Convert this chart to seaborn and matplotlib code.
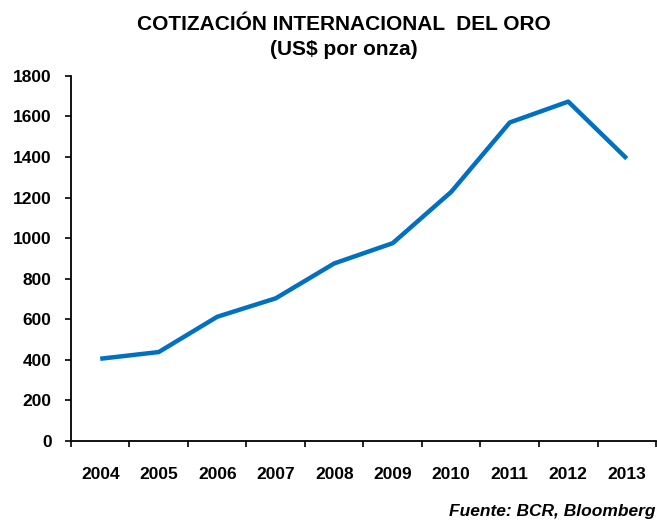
import numpy as np
import pandas as pd
import seaborn as sns
import matplotlib.pyplot as plt
from matplotlib.ticker import FixedLocator

# datos
years = ["2004", "2005", "2006", "2007", "2008", "2009", "2010", "2011", "2012", "2013"]
price = [405, 438, 612, 703, 875, 975, 1228, 1570, 1673, 1392]
yticks = [0, 200, 400, 600, 800, 1000, 1200, 1400, 1600, 1800]

df = pd.DataFrame({"year": years, "price": price})

sns.set_style("white")
plt.rcParams['font.family'] = ['Liberation Sans', 'DejaVu Sans']
plt.rcParams['text.color'] = 'black'
plt.rcParams['xtick.color'] = 'black'
plt.rcParams['ytick.color'] = 'black'

fig = plt.figure(figsize=(6.57, 5.23), dpi=100)
ax = fig.add_axes([0.108, 0.157, 0.8905, 0.698])

sns.lineplot(data=df, x="year", y="price", ax=ax, color="#0070C0", linewidth=3.2,
             solid_capstyle="butt")

ax.set_xlim(-0.5, len(years) - 0.5)
ax.set_ylim(0, 1800)
ax.set_yticks(yticks)
ax.set_yticklabels([str(v) for v in yticks], fontsize=12.5, fontweight="bold")
ax.set_xticks(range(len(years)))
ax.set_xticklabels(years, fontsize=12.5, fontweight="bold")
ax.xaxis.set_minor_locator(FixedLocator(np.arange(-0.5, len(years), 1.0)))
ax.tick_params(axis="x", which="major", length=0, pad=19)
ax.tick_params(axis="x", which="minor", length=4, width=1.2, direction="out", bottom=True)
ax.tick_params(axis="y", length=4, width=1.2, direction="out", left=True, pad=10)
ax.set_xlabel("")
ax.set_ylabel("")

for s in ["top", "right"]:
    ax.spines[s].set_visible(False)
for s in ["left", "bottom"]:
    ax.spines[s].set_color("black")
    ax.spines[s].set_linewidth(1.3)

fig.text(0.524, 0.953, "COTIZACIÓN INTERNACIONAL  DEL ORO", ha="center", va="center",
         fontsize=15, fontweight="bold")
fig.text(0.524, 0.906, "(US$ por onza)", ha="center", va="center",
         fontsize=15, fontweight="bold")
fig.text(0.997, 0.022, "Fuente: BCR, Bloomberg", ha="right", va="center",
         fontsize=12.5, fontweight="bold", fontstyle="italic")

fig.savefig("out.png", dpi=100)
